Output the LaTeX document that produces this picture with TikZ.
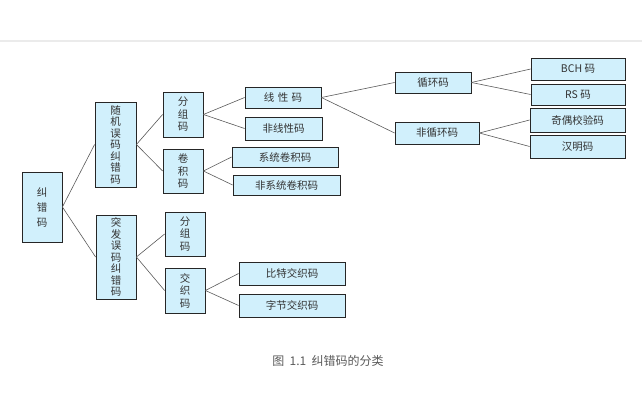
\documentclass[tikz,border=0pt]{standalone}
\usepackage{fontspec}
\setmainfont{Noto Sans CJK SC}
\tikzset{
  box/.style={draw=black!85, line width=0.8pt, fill=cyan!18, inner sep=0pt,
    font=\fontsize{10.5}{11.5}\selectfont, text=black!80},
  vbox/.style={box, align=center},
  link/.style={draw=black!65, line width=0.6pt}
}
\begin{document}
\begin{tikzpicture}[x=1pt, y=-1pt]
  \useasboundingbox (0,0) rectangle (642,401);
  %\draw[lightgray] (0,0) grid[step=50] (642,401);
  \draw[black!8, line width=2pt] (0,41) -- (642,41);
  % vertical boxes
  \node[vbox, minimum width=40, minimum height=70, font=\fontsize{10.5}{15}\selectfont] (root) at (42,207) {纠\\错\\码};
  \node[vbox, minimum width=41, minimum height=85] (rand) at (115.5,144.5) {随\\机\\误\\码\\纠\\错\\码};
  \node[vbox, minimum width=40, minimum height=84] (burst) at (116,257) {突\\发\\误\\码\\纠\\错\\码};
  \node[vbox, minimum width=40, minimum height=45, font=\fontsize{10.5}{12.5}\selectfont] (grpA) at (183,114.5) {分\\组\\码};
  \node[vbox, minimum width=40, minimum height=44, font=\fontsize{10.5}{12.5}\selectfont] (conv) at (183,171) {卷\\积\\码};
  \node[vbox, minimum width=40, minimum height=44, font=\fontsize{10.5}{12.5}\selectfont] (grpB) at (185,234) {分\\组\\码};
  \node[vbox, minimum width=40, minimum height=45, font=\fontsize{10.5}{12.5}\selectfont] (intl) at (185,290.5) {交\\织\\码};
  % horizontal boxes
  \node[box, minimum width=76, minimum height=21] (lin) at (283,97.5) {线\,\,性\,\,码};
  \node[box, minimum width=77, minimum height=23] (nonlin) at (283.5,128.5) {非线性码};
  \node[box, minimum width=106, minimum height=20] (sysconv) at (285,157) {系统卷积码};
  \node[box, minimum width=107, minimum height=20] (nsysconv) at (286.5,185) {非系统卷积码};
  \node[box, minimum width=106, minimum height=23] (bitint) at (292,273.5) {比特交织码};
  \node[box, minimum width=106, minimum height=23] (byteint) at (292,305.5) {字节交织码};
  \node[box, minimum width=76, minimum height=21] (cyc) at (433,82.5) {循环码};
  \node[box, minimum width=84, minimum height=22] (noncyc) at (437,133) {非循环码};
  \node[box, minimum width=94, minimum height=22] (bch) at (578,69) {BCH 码};
  \node[box, minimum width=94, minimum height=21] (rs) at (578,94.5) {RS 码};
  \node[box, minimum width=95, minimum height=24] (parity) at (577.5,120) {奇偶校验码};
  \node[box, minimum width=95, minimum height=23] (hamming) at (577.5,146.5) {汉明码};
  % connectors
  \draw[link] (root.east) -- (rand.west);
  \draw[link] (root.east) -- (burst.west);
  \draw[link] (rand.east) -- (grpA.west);
  \draw[link] (rand.east) -- (conv.west);
  \draw[link] (burst.east) -- (grpB.west);
  \draw[link] (burst.east) -- (intl.west);
  \draw[link] (grpA.east) -- (lin.west);
  \draw[link] (grpA.east) -- (nonlin.west);
  \draw[link] (conv.east) -- (sysconv.west);
  \draw[link] (conv.east) -- (nsysconv.west);
  \draw[link] (intl.east) -- (bitint.west);
  \draw[link] (intl.east) -- (byteint.west);
  \draw[link] (lin.east) -- (cyc.west);
  \draw[link] (lin.east) -- (noncyc.west);
  \draw[link] (cyc.east) -- (bch.west);
  \draw[link] (cyc.east) -- (rs.west);
  \draw[link] (noncyc.east) -- (parity.west);
  \draw[link] (noncyc.east) -- (hamming.west);
  % caption
  \node[text=black!65, font=\fontsize{12}{14}\selectfont] (caption) at (328,361) {图\ \ 1.1\ \ 纠错码的分类};
\end{tikzpicture}
\end{document}
